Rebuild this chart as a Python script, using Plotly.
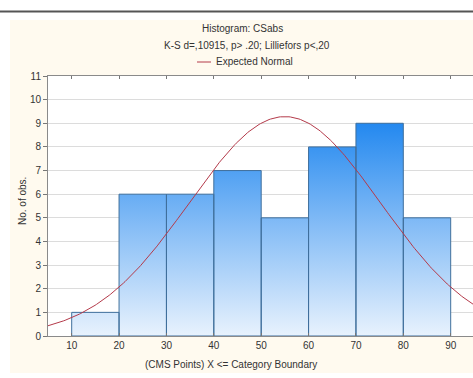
import numpy as np
import plotly.graph_objects as go

# ---- data ----
bin_lower = [10, 20, 30, 40, 50, 60, 70, 80]
bin_upper = [20, 30, 40, 50, 60, 70, 80, 90]
counts = [1, 6, 6, 7, 5, 8, 9, 5]
x_ticks = [10, 20, 30, 40, 50, 60, 70, 80, 90]
y_ticks = list(range(0, 12))
normal_mean = 55.0
normal_sd = 20.2
bin_width = 10

title_line1 = "Histogram: CSabs"
title_line2 = "K-S d=,10915, p> .20; Lilliefors p<,20"
legend_text = "Expected Normal"
x_title = "(CMS Points) X <= Category Boundary"
y_title = "No. of obs."

# ---- geometry ----
W, H = 473, 378
ml, mr, mt, mb = 48, 0, 76, 42
pw = W - ml - mr
ph = H - mt - mb

def px(xpix):
    return (xpix - ml) / pw

def py(ypix):
    return (H - mb - ypix) / ph

# bars path
bx, by = [], []
for lo, hi, c in zip(bin_lower, bin_upper, counts):
    bx += [lo, lo, hi, hi, lo, None]
    by += [0, c, c, 0, 0, None]

n_total = sum(counts)
xs = np.linspace(5, 95, 300)
ys = n_total * bin_width * np.exp(-0.5 * ((xs - normal_mean) / normal_sd) ** 2) / (normal_sd * np.sqrt(2 * np.pi))

fig = go.Figure()
fig.add_trace(go.Scatter(
    x=bx, y=by, mode="lines", fill="toself",
    line=dict(color="#3f6f9c", width=1),
    fillgradient=dict(type="vertical", start=0, stop=9.2,
                      colorscale=[[0, "#e8f2fd"], [0.5, "#86bdf6"], [1, "#1f86ef"]]),
    hoverinfo="skip", showlegend=False,
))
fig.add_trace(go.Scatter(
    x=xs, y=ys, mode="lines", line=dict(color="#b43a4a", width=1),
    showlegend=False, hoverinfo="skip",
))

font = dict(family="Liberation Sans, Arial, sans-serif", size=10, color="#333333")

shapes = [
    dict(type="rect", xref="paper", yref="paper", layer="below",
         x0=px(10), x1=px(490), y0=py(373), y1=py(20),
         fillcolor="#fffaef", line=dict(width=0)),
    dict(type="rect", xref="paper", yref="paper", layer="below",
         x0=0, x1=1, y0=0, y1=1, fillcolor="white", line=dict(width=0)),
    dict(type="line", xref="paper", yref="paper",
         x0=px(0), x1=px(W), y0=py(11.5), y1=py(11.5),
         line=dict(color="#555555", width=2)),
    dict(type="line", xref="paper", yref="paper",
         x0=px(197), x1=px(211), y0=py(62), y1=py(62),
         line=dict(color="#b43a4a", width=1)),
]

annotations = [
    dict(text=title_line1, xref="paper", yref="paper", x=px(242), y=py(29),
         showarrow=False, font=font, xanchor="center", yanchor="middle"),
    dict(text=title_line2, xref="paper", yref="paper", x=px(247), y=py(46),
         showarrow=False, font=font, xanchor="center", yanchor="middle"),
    dict(text=legend_text, xref="paper", yref="paper", x=px(214), y=py(62),
         showarrow=False, font=font, xanchor="left", yanchor="middle"),
    dict(text=x_title, xref="paper", yref="paper", x=px(231), y=py(364),
         showarrow=False, font=font, xanchor="center", yanchor="middle"),
    dict(text=y_title, xref="paper", yref="paper", x=px(22), y=py(201),
         showarrow=False, font=font, xanchor="center", yanchor="middle", textangle=-90),
]

fig.update_layout(
    width=W, height=H,
    margin=dict(l=ml, r=mr, t=mt, b=mb, pad=0),
    paper_bgcolor="white", plot_bgcolor="white",
    shapes=shapes, annotations=annotations,
    font=font,
    xaxis=dict(range=[5, 5 + (W - ml) / 4.7375], tickvals=x_ticks,
               ticks="inside", ticklen=3, tickcolor="#777777", mirror="ticks",
               showline=True, linecolor="#8a8a8a", linewidth=1,
               showgrid=False, zeroline=False, tickfont=font, fixedrange=True),
    yaxis=dict(range=[0, 11], tickvals=y_ticks,
               ticks="outside", ticklen=4, tickcolor="#777777",
               showline=True, linecolor="#8a8a8a", linewidth=1,
               showgrid=True, gridcolor="#dcdcdc", gridwidth=1,
               zeroline=False, tickfont=font, fixedrange=True),
)

fig.write_html("out.html")
